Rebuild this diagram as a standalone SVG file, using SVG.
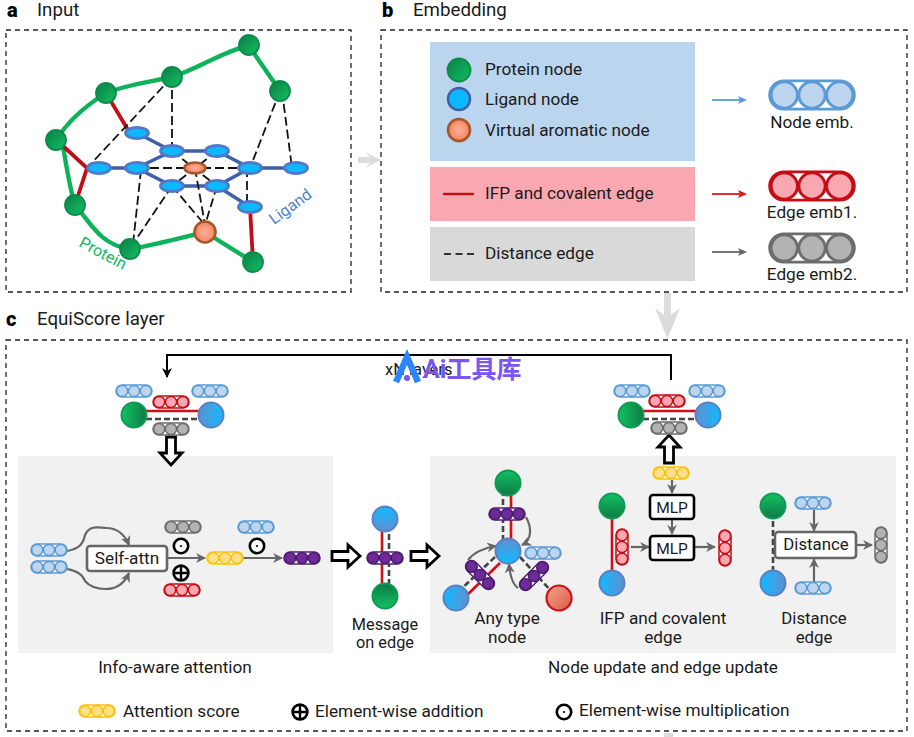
<svg xmlns="http://www.w3.org/2000/svg" xmlns:xlink="http://www.w3.org/1999/xlink" width="914" height="737" viewBox="0 0 914 737">
<style>
text{font-family:Roboto,"Noto Sans CJK SC",sans-serif;font-size:17.2px;fill:#1a1a1a}
.m{text-anchor:middle}
.h{font-size:20px;font-weight:900;fill:#000}
.t{font-size:18.7px}
.frame{fill:none;stroke:#222;stroke-width:1.3;stroke-dasharray:5 4}
.gl{fill:none;stroke:#0cb35a;stroke-width:4.4;stroke-linecap:round}
.rl{fill:none;stroke:#c40d14;stroke-width:3.8}
.ll{fill:none;stroke:#3f60a8;stroke-width:3.6}
.dl{fill:none;stroke:#111;stroke-width:1.8;stroke-dasharray:9 4}
.pn{fill:url(#gr);stroke:#0d8a4c;stroke-width:1.8}
.ln{fill:#0cb8ff;stroke:#5478c8;stroke-width:2.8}
.vn{fill:url(#or);stroke:#a5562a;stroke-width:2.6}
.lb{fill:url(#bl);stroke:#5b80c4;stroke-width:2}
.red{stroke:#d01018;stroke-width:2.6;fill:none}
.dash{stroke:#444;stroke-width:2.6;stroke-dasharray:6 3;fill:none}
.ga{stroke:#666;stroke-width:2.2;fill:none;marker-end:url(#ah)}
.hollow{fill:#fff;stroke:#000;stroke-width:2.8}
.box{fill:#fff;stroke:#666;stroke-width:2.6}
.boxk{fill:#fff;stroke:#000;stroke-width:2.6}
.op{fill:#fff;stroke:#000;stroke-width:2.6}
.pB{stroke:#5b9bd5;fill:#bdd5ee}.pR{stroke:#c40d14;fill:#f9a8b2}.pG{stroke:#6d6d6d;fill:#b3b3b3}.pY{stroke:#ffc107;fill:#ffe08a}.pP{stroke:#4d1d73;fill:#6e2a96}
</style>
<defs>
<linearGradient id="gr" x1="0" y1="0" x2="1" y2="1"><stop offset="0" stop-color="#0c7f44"/><stop offset="1" stop-color="#12bf64"/></linearGradient>
<linearGradient id="gr3" x1="0" y1="0" x2="1" y2="0"><stop offset="0" stop-color="#11c163"/><stop offset="1" stop-color="#0f7a44"/></linearGradient>
<linearGradient id="gr5" x1="0" y1="0" x2="0" y2="1"><stop offset="0" stop-color="#11c163"/><stop offset="1" stop-color="#0f7a44"/></linearGradient>
<linearGradient id="gr6" x1="0" y1="0" x2="0" y2="1"><stop offset="0" stop-color="#0f7a44"/><stop offset="1" stop-color="#11c163"/></linearGradient>
<linearGradient id="bl" x1="0" y1="0" x2="1" y2="0"><stop offset="0" stop-color="#5f8fd0"/><stop offset="1" stop-color="#10baff"/></linearGradient>
<linearGradient id="bl2" x1="0" y1="0" x2="1" y2="0"><stop offset="0" stop-color="#10baff"/><stop offset="1" stop-color="#5f8fd0"/></linearGradient>
<linearGradient id="bl3" x1="0" y1="0" x2="0" y2="1"><stop offset="0" stop-color="#10baff"/><stop offset="1" stop-color="#5f8fd0"/></linearGradient>
<linearGradient id="bl4" x1="0" y1="0" x2="0" y2="1"><stop offset="0" stop-color="#5f8fd0"/><stop offset="1" stop-color="#10baff"/></linearGradient>
<radialGradient id="or"><stop offset="0" stop-color="#ffb09a"/><stop offset="1" stop-color="#f4845f"/></radialGradient>
<linearGradient id="rd" x1="0" y1="0" x2="1" y2="1"><stop offset="0" stop-color="#f2a58e"/><stop offset="1" stop-color="#dc5a45"/></linearGradient>
<marker id="ah" viewBox="0 0 10 10" refX="9" refY="5" markerWidth="4.5" markerHeight="4.5" orient="auto-start-reverse"><path d="M0 0L10 5L0 10L3 5Z" fill="#666"/></marker>
<marker id="ahk" viewBox="0 0 10 10" refX="9" refY="5" markerWidth="5" markerHeight="5" orient="auto"><path d="M0 0L10 5L0 10L3 5Z" fill="#000"/></marker>
<g id="pill"><rect x="-18" y="-6" width="36" height="12" rx="6" style="fill:#fff"/><circle cx="-11.8" r="5.6"/><circle r="5.6"/><circle cx="11.8" r="5.6"/></g>
<g id="hollowR"><path class="hollow" d="M-14 -4.500H2V-11L14 0L2 11V4.500H-14Z"/></g>
<g id="odot"><circle class="op" r="7.2"/><circle r="1.1" fill="#000"/></g>
<g id="oplus"><circle class="op" r="7.4"/><path d="M-7.4 0H7.4M0 -7.4V7.4" stroke="#000" stroke-width="2.4"/></g>
</defs>

<g id="panel-a">
<text class="h" x="7" y="17">a</text>
<text class="t" x="37" y="16">Input</text>
<rect class="frame" x="6" y="30" width="345" height="262"/>
</g>
<g id="network-edges">
<path class="gl" d="M249 46C225 50 200 68 172 77M172 77C150 82 125 85 106 93M106 93C90 103 70 118 56 140M249 46L280 91M62 140C66 165 70 190 75 205M75 205C90 222 100 245 130 249M130 249C155 245 180 238 205 232M205 232L253 262"/>
<path class="rl" d="M106 93L128 130M62 145L87 168L75 205M250 207L253 262"/>
<path class="ll" d="M137 133L172 151H217L250 168L217 186H172L137 168L172 151M99 168H137M250 168H296M217 186L250 207"/>
<path class="dl" d="M172 77L87 168M172 77V151M280 91L250 168M282 91L292 168M137 168H250M172 151L217 186M217 151L172 186M247 168V207M141 170L133 244M172 186L133 244M172 186L205 225M195 168L205 225M217 186L205 225"/>
</g>
<g id="network-nodes">
<circle class="pn" cx="249" cy="45" r="10"/><circle class="pn" cx="280" cy="91" r="10"/><circle class="pn" cx="172" cy="77" r="10"/><circle class="pn" cx="106" cy="93" r="10"/><circle class="pn" cx="56" cy="140" r="10"/><circle class="pn" cx="75" cy="205" r="10"/><circle class="pn" cx="130" cy="249" r="10"/><circle class="pn" cx="253" cy="262" r="10"/>
<circle class="vn" cx="205" cy="232" r="10.5"/>
<ellipse class="ln" cx="137" cy="133" rx="11.500" ry="5.500"/><ellipse class="ln" cx="172" cy="151" rx="11.500" ry="5.500"/><ellipse class="ln" cx="217" cy="151" rx="11.500" ry="5.500"/><ellipse class="ln" cx="99" cy="168" rx="11.500" ry="5.500"/><ellipse class="ln" cx="137" cy="168" rx="11.500" ry="5.500"/><ellipse class="ln" cx="250" cy="168" rx="11.500" ry="5.500"/><ellipse class="ln" cx="296" cy="168" rx="11.500" ry="5.500"/><ellipse class="ln" cx="172" cy="186" rx="11.500" ry="5.500"/><ellipse class="ln" cx="217" cy="186" rx="11.500" ry="5.500"/><ellipse class="ln" cx="250" cy="207" rx="11.500" ry="5.500"/>
<ellipse class="vn" cx="195" cy="168" rx="10.5" ry="5.5"/>
<text transform="translate(78 246) rotate(28)" style="fill:#11b866;font-size:16px">Protein</text>
<text transform="translate(274 225) rotate(-36)" style="fill:#4a86c8;font-size:16px">Ligand</text>
</g>

<g id="panel-b">
<text class="h" x="382" y="17">b</text>
<text class="t" x="413" y="16">Embedding</text>
<rect class="frame" x="381" y="30" width="526" height="262"/>
<rect x="430" y="42" width="265" height="119" fill="#bbd5ee"/>
<rect x="430" y="167" width="265" height="54" fill="#f9a8b2"/>
<rect x="430" y="227" width="265" height="54" fill="#d9d9d9"/>
</g>
<g id="legend-protein"><circle class="pn" cx="459" cy="70" r="11.5"/><text x="485" y="75">Protein node</text></g>
<g id="legend-ligand"><circle cx="459" cy="99" r="11" fill="#0cb8ff" stroke="#3f60a8" stroke-width="2.5"/><text x="485" y="105">Ligand node</text></g>
<g id="legend-virtual"><circle class="vn" cx="459" cy="130" r="11"/><text x="485" y="136">Virtual aromatic node</text></g>
<g id="legend-ifp"><path d="M443 194H474" stroke="#c40d14" stroke-width="2.4"/><text x="485" y="199">IFP and covalent edge</text></g>
<g id="legend-distance"><path d="M444 254H476" stroke="#333" stroke-width="2" stroke-dasharray="7 4.5"/><text x="485" y="259">Distance edge</text></g>
<g id="embedding-arrows" fill="none" stroke-width="1.8">
<path d="M712 100H744" stroke="#5b9bd5"/><path d="M738 96L747 100L738 104L740 100Z" fill="#5b9bd5" stroke="none"/>
<path d="M712 194H744" stroke="#e8141c"/><path d="M738 190L747 194L738 198L740 194Z" fill="#e8141c" stroke="none"/>
<path d="M712 252H744" stroke="#666"/><path d="M738 248L747 252L738 256L740 252Z" fill="#666" stroke="none"/>
</g>
<g id="node-emb"><use href="#pill" class="pB" transform="translate(812 95) scale(2.35)" stroke-width="1.25"/><text class="m" x="812" y="128">Node emb.</text></g>
<g id="edge-emb1"><use href="#pill" class="pR" transform="translate(812 186) scale(2.35)" stroke-width="1.25"/><text class="m" x="812" y="218">Edge emb1.</text></g>
<g id="edge-emb2"><use href="#pill" class="pG" transform="translate(812 248) scale(2.35)" stroke-width="1.25"/><text class="m" x="812" y="280">Edge emb2.</text></g>
<g id="flow-arrows" fill="#dcdcdc">
<path d="M358 157H370L365 152L381 160L365 168L370 163H358Z"/>
<path d="M664 293H671V315L680 308L667.500 339L655 308L664 315Z"/>
<rect x="664" y="733" width="9" height="4"/>
</g>

<g id="panel-c">
<text class="h" x="6" y="326">c</text>
<text class="t" x="37" y="325">EquiScore layer</text>
<rect class="frame" x="6" y="340" width="901" height="391"/>
<rect x="18" y="456" width="315" height="197" fill="#f1f1f1"/>
<rect x="430" y="456" width="466" height="197" fill="#f1f1f1"/>
</g>
<g id="connectors">
<path d="M671 380V355H167V377" fill="none" stroke="#000" stroke-width="2" marker-end="url(#ahk)"/>
<use href="#hollowR" transform="translate(171 451) rotate(90)"/>
<use href="#hollowR" transform="translate(669 449) rotate(-90)"/>
<use href="#hollowR" transform="translate(346 556)"/>
<use href="#hollowR" transform="translate(425 556)"/>
<path class="ga" d="M67 551C78 549 83 545 85 535C90 524 100 528 106 528C116 528 124 533 129 545"/>
<path class="ga" d="M67 569C78 571 83 575 85 581C90 587 98 589 106 589C116 589 124 584 129 573"/>
<path class="ga" d="M167 558H205"/><path class="ga" d="M243 558H282"/>
<path class="ga" d="M672 480V493"/><path class="ga" d="M672 520V534"/><path class="ga" d="M631 547H649"/><path class="ga" d="M695 547H715"/>
<path class="ga" d="M814 510V531"/><path class="ga" d="M814 582V559"/><path class="ga" d="M857 545H872"/>
<path class="ga" d="M526 517C532 528 532 540 522 545"/>
<path class="ga" d="M468 560C474 552 484 548 496 546"/>
<path class="ga" d="M518 588C512 584 510 575 509 564"/>
</g>
<g id="cluster-left">
<path class="red" d="M146 411H199"/><path class="dash" d="M146 419H199"/>
<use href="#pill" class="pB" transform="translate(134 391)" stroke-width="1.5"/><use href="#pill" class="pB" transform="translate(210 391)" stroke-width="1.5"/><use href="#pill" class="pR" transform="translate(171 402)" stroke-width="1.5"/><use href="#pill" class="pG" transform="translate(171 429)" stroke-width="1.5"/>
<circle cx="134" cy="415" r="12.500" style="fill:url(#gr3);stroke:#0f9a55;stroke-width:2"/><circle class="lb" cx="211" cy="415" r="12.500"/>
</g>
<g id="cluster-right">
<path class="red" d="M643 411H696"/><path class="dash" d="M643 419H696"/>
<use href="#pill" class="pB" transform="translate(632 391)" stroke-width="1.5"/><use href="#pill" class="pB" transform="translate(707 391)" stroke-width="1.5"/><use href="#pill" class="pR" transform="translate(667 401)" stroke-width="1.5"/><use href="#pill" class="pG" transform="translate(669 428)" stroke-width="1.5"/>
<circle cx="631" cy="415" r="12.500" style="fill:url(#gr3);stroke:#0f9a55;stroke-width:2"/><circle class="lb" cx="708" cy="415" r="12.500"/>
</g>
<text id="layers-label" x="385" y="375" style="font-size:16.500px">xN layers</text>
<g id="attention">
<use href="#pill" class="pB" transform="translate(49 550)" stroke-width="1.500"/><use href="#pill" class="pB" transform="translate(49 567)" stroke-width="1.500"/>
<g id="self-attn"><rect class="box" x="87" y="546" width="80" height="25" rx="3"/><text class="m" x="127" y="564">Self-attn</text></g>
<use href="#pill" class="pG" transform="translate(183 527)" stroke-width="1.500"/>
<use href="#odot" transform="translate(181 546)"/><use href="#oplus" transform="translate(181 573)"/>
<use href="#pill" class="pR" transform="translate(182 590)" stroke-width="1.500"/>
<use href="#pill" class="pY" transform="translate(225 558)" stroke-width="1.500"/>
<use href="#pill" class="pB" transform="translate(256 527)" stroke-width="1.500"/>
<use href="#odot" transform="translate(257 546)"/>
<use href="#pill" class="pP" transform="translate(302 558)" stroke-width="1.500"/>
<text class="m" x="175" y="673">Info-aware attention</text>
</g>
<g id="message">
<path class="red" d="M382 525V590"/><path class="dash" d="M389 525V590"/>
<circle cx="385" cy="519" r="12.500" style="fill:url(#bl3);stroke:#5b80c4;stroke-width:2"/>
<circle cx="385" cy="596" r="12.500" style="fill:url(#gr6);stroke:#0f9a55;stroke-width:2"/>
<use href="#pill" class="pP" transform="translate(385 558)" stroke-width="1.500"/>
<text class="m" x="385" y="630" style="font-size:16.300px">Message</text><text class="m" x="385" y="648" style="font-size:16.300px">on edge</text>
</g>
<g id="any-type">
<path class="red" d="M511 490V546M500 563L462 600"/><path class="dash" d="M503 490V546M495 557L457 593M520 557L552 592"/>
<circle cx="508" cy="483" r="12.500" style="fill:url(#gr5);stroke:#0f9a55;stroke-width:2"/>
<circle cx="508" cy="551" r="12.500" style="fill:url(#bl4);stroke:#5b80c4;stroke-width:2"/>
<circle cx="456" cy="598" r="12.500" style="fill:url(#bl2);stroke:#5b80c4;stroke-width:2"/>
<circle cx="559" cy="598" r="12.500" style="fill:url(#rd);stroke:#d01018;stroke-width:2.2"/>
<use href="#pill" class="pP" transform="translate(507 514)" stroke-width="1.500"/>
<use href="#pill" class="pP" transform="translate(480 575) rotate(45)" stroke-width="1.500"/>
<use href="#pill" class="pP" transform="translate(534 576) rotate(-45)" stroke-width="1.500"/>
<use href="#pill" class="pB" transform="translate(543 553)" stroke-width="1.500"/>
<text class="m" x="507" y="624">Any type</text><text class="m" x="507" y="643">node</text>
</g>
<g id="ifp-update">
<path class="red" d="M612 512V578"/>
<circle cx="612" cy="506" r="12.500" style="fill:url(#gr5);stroke:#0f9a55;stroke-width:2"/>
<circle cx="612" cy="583" r="12.500" style="fill:url(#bl2);stroke:#5b80c4;stroke-width:2"/>
<use href="#pill" class="pR" transform="translate(622 547) rotate(90)" stroke-width="1.500"/>
<use href="#pill" class="pY" transform="translate(671 473)" stroke-width="1.500"/>
<g id="mlp-1"><rect class="boxk" x="650" y="495" width="44" height="24" rx="3"/><text class="m" x="672" y="513" style="font-size:15.500px">MLP</text></g>
<g id="mlp-2"><rect class="boxk" x="650" y="536" width="44" height="24" rx="3"/><text class="m" x="672" y="554" style="font-size:15.500px">MLP</text></g>
<use href="#pill" class="pR" transform="translate(725 548) rotate(90)" stroke-width="1.500"/>
<text class="m" x="663" y="624">IFP and covalent</text><text class="m" x="663" y="643">edge</text>
</g>
<g id="distance-update">
<path class="dash" d="M773 512V578"/>
<circle cx="773" cy="506" r="12.500" style="fill:url(#gr5);stroke:#0f9a55;stroke-width:2"/>
<circle cx="773" cy="583" r="12.500" style="fill:url(#bl2);stroke:#5b80c4;stroke-width:2"/>
<use href="#pill" class="pB" transform="translate(813 503)" stroke-width="1.500"/>
<use href="#pill" class="pB" transform="translate(813 588)" stroke-width="1.500"/>
<g id="distance-box"><rect class="box" x="775" y="532" width="81" height="26" rx="3"/><text class="m" x="816" y="550" style="font-size:16.800px">Distance</text></g>
<use href="#pill" class="pG" transform="translate(881 545) rotate(90)" stroke-width="1.500"/>
<text class="m" x="814" y="624" style="font-size:16.800px">Distance</text><text class="m" x="814" y="643" style="font-size:16.800px">edge</text>
</g>
<text id="node-update-label" class="m" x="663" y="673">Node update and edge update</text>
<g id="legend-bottom">
<use href="#pill" class="pY" transform="translate(97 711)" stroke-width="1.500"/>
<text x="123" y="717">Attention score</text>
<use href="#oplus" transform="translate(300 712)"/>
<text x="315" y="717">Element-wise addition</text>
<use href="#odot" transform="translate(564 712)"/>
<text x="579" y="716">Element-wise multiplication</text>
</g>
<g id="watermark">
<path d="M396 382L407 357L418 382" fill="none" stroke="#2b86ff" stroke-width="6.500"/>
<circle cx="407" cy="378" r="3" fill="#7a55f5"/>
<text x="423" y="378" style="font-size:25px;font-weight:700;fill:#7a55f5">Ai工具库</text>
</g>
</svg>
